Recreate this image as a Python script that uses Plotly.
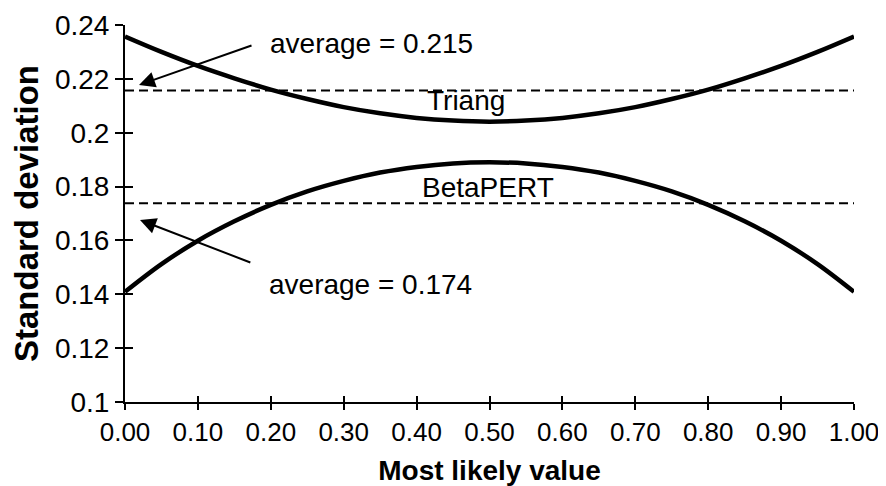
import plotly.graph_objects as go

# Most likely value (x) and standard deviations
most_likely = [0.00, 0.05, 0.10, 0.15, 0.20, 0.25, 0.30, 0.35, 0.40, 0.45, 0.50,
               0.55, 0.60, 0.65, 0.70, 0.75, 0.80, 0.85, 0.90, 0.95, 1.00]
triang_sd = [0.2357, 0.2300, 0.2248, 0.2202, 0.2160, 0.2125, 0.2095, 0.2072, 0.2055, 0.2045, 0.2041,
             0.2045, 0.2055, 0.2072, 0.2095, 0.2125, 0.2160, 0.2202, 0.2248, 0.2300, 0.2357]
pert_sd = [0.1409, 0.1512, 0.1599, 0.1671, 0.1732, 0.1782, 0.1821, 0.1852, 0.1873, 0.1886, 0.1890,
           0.1886, 0.1873, 0.1852, 0.1821, 0.1782, 0.1732, 0.1671, 0.1599, 0.1512, 0.1409]
avg_x = [0.0, 1.0]
triang_avg = 0.2157
pert_avg = 0.1738

y_ticks = [0.10, 0.12, 0.14, 0.16, 0.18, 0.20, 0.22, 0.24]
x_ticks = [0.0, 0.1, 0.2, 0.3, 0.4, 0.5, 0.6, 0.7, 0.8, 0.9, 1.0]

FONT = "Liberation Sans, Arial, sans-serif"

fig = go.Figure()
fig.add_trace(go.Scatter(x=most_likely, y=triang_sd, mode="lines", line=dict(color="black", width=4.5, shape="spline"), showlegend=False))
fig.add_trace(go.Scatter(x=most_likely, y=pert_sd, mode="lines", line=dict(color="black", width=4.5, shape="spline"), showlegend=False))
fig.add_trace(go.Scatter(x=avg_x, y=[triang_avg, triang_avg], mode="lines", line=dict(color="black", width=2, dash="9px,5px"), showlegend=False, xaxis="x2", yaxis="y2"))
fig.add_trace(go.Scatter(x=avg_x, y=[pert_avg, pert_avg], mode="lines", line=dict(color="black", width=2, dash="9px,5px"), showlegend=False, xaxis="x2", yaxis="y2"))

axis_common = dict(showgrid=False, zeroline=False, showline=True, linecolor="black", linewidth=2,
                   tickcolor="black", tickwidth=2, automargin=False)

# the page body adds an 8px margin, so the figure is sized to fit the 886x486 window
fig.update_layout(
    width=878, height=478,
    margin=dict(l=117, r=32, t=17, b=84),
    paper_bgcolor="white", plot_bgcolor="white",
    font=dict(family=FONT, color="black", size=26),
    xaxis=dict(range=[0, 1], tickvals=x_ticks, tickformat=".2f", ticks="outside", ticklen=6,
               title=dict(text="<b>Most likely value</b>", font=dict(size=28), standoff=16),
               tickfont=dict(size=26), **axis_common),
    yaxis=dict(range=[0.1, 0.24], tickvals=y_ticks, ticktext=[str(round(v, 2)) for v in y_ticks],
               ticks="outside", ticklen=8,
               title=dict(text="<b>Standard deviation</b>", font=dict(size=33), standoff=12),
               tickfont=dict(size=28), **axis_common),
    xaxis2=dict(range=[0, 1], tickvals=x_ticks, ticks="inside", ticklen=6, showticklabels=False,
                overlaying="x", anchor="y2", **axis_common),
    yaxis2=dict(range=[0.1, 0.24], tickvals=y_ticks, ticks="inside", ticklen=8, showticklabels=False,
                overlaying="y", anchor="x2", side="left", **axis_common),
)

ann_font = dict(family=FONT, size=28, color="black")
fig.add_annotation(x=0.196, y=0.2333, text="average = 0.215", showarrow=False, xanchor="left", yanchor="middle", font=ann_font)
fig.add_annotation(x=0.195, y=0.1435, text="average = 0.174", showarrow=False, xanchor="left", yanchor="middle", font=ann_font)
fig.add_annotation(x=0.468, y=0.2118, text="Triang", showarrow=False, xanchor="center", yanchor="middle", font=ann_font)
fig.add_annotation(x=0.498, y=0.1798, text="BetaPERT", showarrow=False, xanchor="center", yanchor="middle", font=ann_font)

arrow_common = dict(text="", showarrow=True, axref="x", ayref="y", arrowhead=2, arrowsize=1.6, arrowwidth=2, arrowcolor="black")
fig.add_annotation(x=0.0192, y=0.2177, ax=0.1756, ay=0.2326, **arrow_common)
fig.add_annotation(x=0.0206, y=0.1676, ax=0.174, ay=0.1516, **arrow_common)

fig.write_html("out.html")
